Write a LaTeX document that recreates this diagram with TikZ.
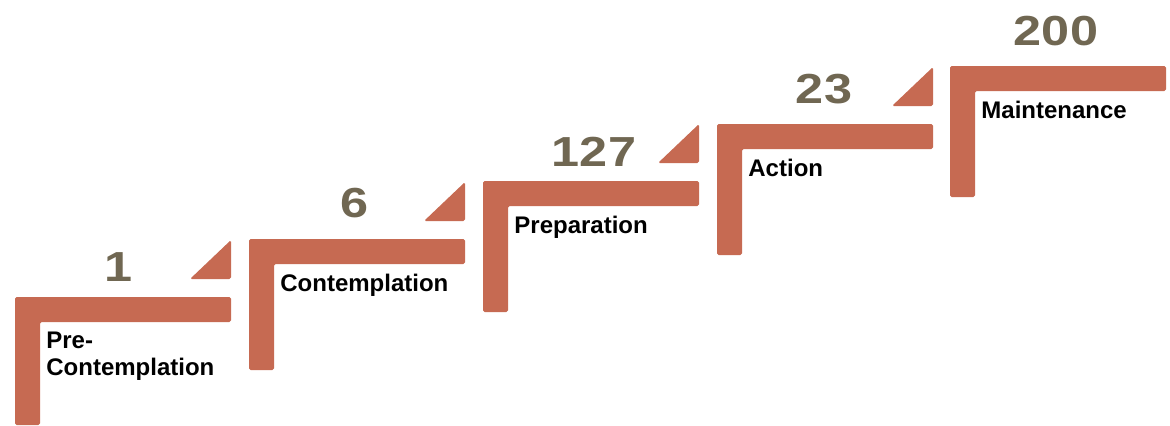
\documentclass[tikz,border=0pt]{standalone}
\usepackage{fontspec}
\setmainfont{Liberation Sans}
\definecolor{stairred}{RGB}{198,106,82}
\definecolor{countgray}{RGB}{112,103,82}

\begin{document}
\begin{tikzpicture}[x=0.5pt, y=-0.5pt,
    stair/.style={fill=stairred, rounded corners=0.8pt},
    count/.style={font=\bfseries\fontsize{21}{21}\selectfont, text=countgray, anchor=base, inner sep=0pt, xscale=1.2},
    stage/.style={font=\bfseries\fontsize{12}{13.5}\selectfont, anchor=north west, align=left, inner sep=0pt}]
  \useasboundingbox (0,0) rectangle (1170,425);
  % pre-contemplation
  \fill[stair] (15,297) -- (231,297) -- (231,322) -- (40,322) -- (40,425) -- (15,425) -- cycle;
  \fill[stair] (190,279) -- (231,240) -- (231,279) -- cycle;
  \node[count] (count1) at (119,281) {1};
  \node[stage] (stage1) at (46,332) {Pre-\\Contemplation};
  % contemplation
  \fill[stair] (249,239) -- (465,239) -- (465,264) -- (274,264) -- (274,370) -- (249,370) -- cycle;
  \fill[stair] (424,221) -- (465,182) -- (465,221) -- cycle;
  \node[count] (count2) at (355,217) {6};
  \node[stage] (stage2) at (280,274) {Contemplation};
  % preparation
  \fill[stair] (483,181) -- (699,181) -- (699,206) -- (508,206) -- (508,312) -- (483,312) -- cycle;
  \fill[stair] (658,163) -- (699,124) -- (699,163) -- cycle;
  \node[count] (count3) at (594,166) {127};
  \node[stage] (stage3) at (514,216) {Preparation};
  % action
  \fill[stair] (717,124) -- (933,124) -- (933,149) -- (742,149) -- (742,255) -- (717,255) -- cycle;
  \fill[stair] (892,106) -- (933,67) -- (933,106) -- cycle;
  \node[count] (count4) at (824,103) {23};
  \node[stage] (stage4) at (748,159) {Action};
  % maintenance
  \fill[stair] (950,66) -- (1166,66) -- (1166,91) -- (975,91) -- (975,197) -- (950,197) -- cycle;
  \node[count] (count5) at (1056,45) {200};
  \node[stage] (stage5) at (981,101) {Maintenance};
\end{tikzpicture}
\end{document}
